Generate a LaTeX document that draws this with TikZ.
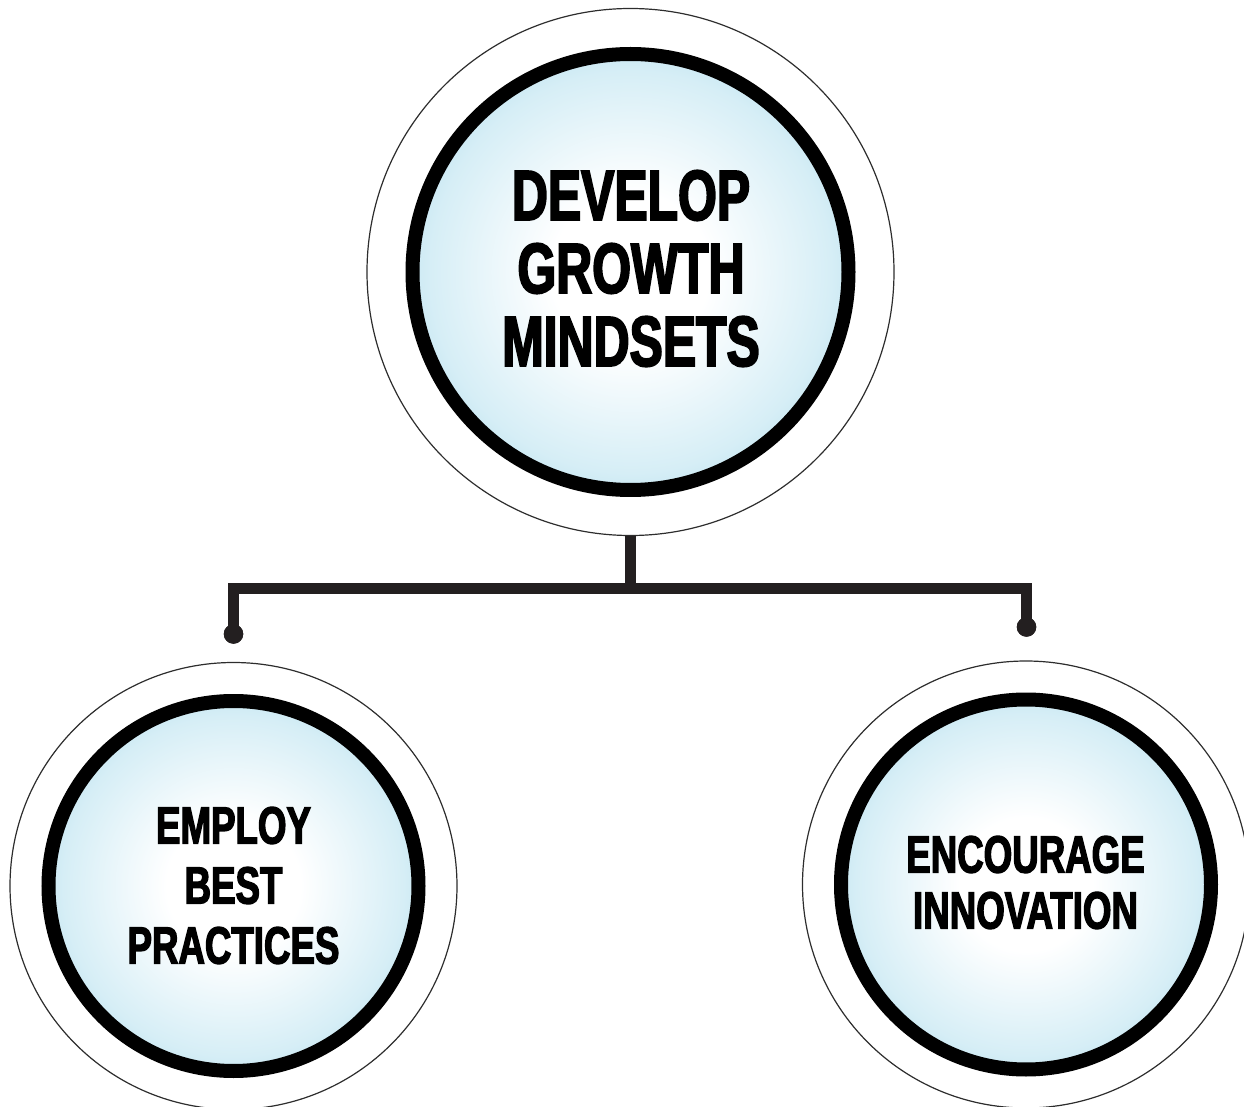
\documentclass[tikz,border=0pt]{standalone}
\usepackage{fontspec}
\newfontfamily\headfont[FakeStretch=0.70,FakeBold=2.5]{Liberation Sans}
\definecolor{glowblue}{RGB}{160,213,233}
\definecolor{glowmid}{RGB}{214,238,246}
\definecolor{linkink}{RGB}{35,31,32}
\definecolor{haloline}{RGB}{45,45,45}
% soft white-to-blue glow inside each bubble
\pgfdeclareradialshading{bubbleglow}{\pgfpoint{0bp}{0bp}}{%
  color(0bp)=(white); color(9bp)=(white); color(23bp)=(glowmid); color(34bp)=(glowblue); color(50bp)=(glowblue)}

\begin{document}
\begin{tikzpicture}[x=0.5pt,y=-0.5pt,
  halo/.style={circle, draw=haloline, line width=0.6pt, inner sep=0pt, minimum size=#1},
  core/.style={circle, draw=black, line width=7pt, shading=bubbleglow, inner sep=0pt, minimum size=#1},
  bigtext/.style={inner sep=0pt, align=center, font=\headfont\bfseries\fontsize{35.6pt}{36.5pt}\selectfont},
  smalltext/.style={inner sep=0pt, align=center, font=\headfont\bfseries\fontsize{26.2pt}{#1}\selectfont},
  link/.style={draw=linkink, line width=5.5pt, line join=miter},
  tip/.style={circle, fill=linkink, inner sep=0pt, minimum size=9.75pt}
]
\useasboundingbox (0,0) rectangle (1244,1107);
\clip (0,0) rectangle (1244,1107);

% outer thin rings
\node[halo=263.5pt] (goal-halo) at (630.5,272) {};
\node[halo=223.5pt] (left-halo) at (233.5,886) {};
\node[halo=223.5pt] (right-halo) at (1026,884.5) {};

% inner glowing bubbles
\node[core=218pt] (goal) at (630.5,272) {};
\node[core=185pt] (left) at (233.5,886) {};
\node[core=185pt] (right) at (1026,884.5) {};

% labels
\node[bigtext] (goal-text) at (631,268.5) {DEVELOP\\GROWTH\\MINDSETS};
\node[smalltext=30pt] (left-text) at (233.5,885.5) {EMPLOY\\BEST\\PRACTICES};
\node[smalltext=28pt] (right-text) at (1025.5,882.5) {ENCOURAGE\\INNOVATION};

% branching connector
\coordinate (hub) at (630.5,588.5);
\node[tip] (left-tip) at (233.5,634) {};
\node[tip] (right-tip) at (1026.5,627) {};
\draw[link] (goal-halo.south) -- (hub);
\draw[link] (left-tip.center) |- (hub) -| (right-tip.center);
\node[tip] at (left-tip) {};
\node[tip] at (right-tip) {};
\end{tikzpicture}
\end{document}
